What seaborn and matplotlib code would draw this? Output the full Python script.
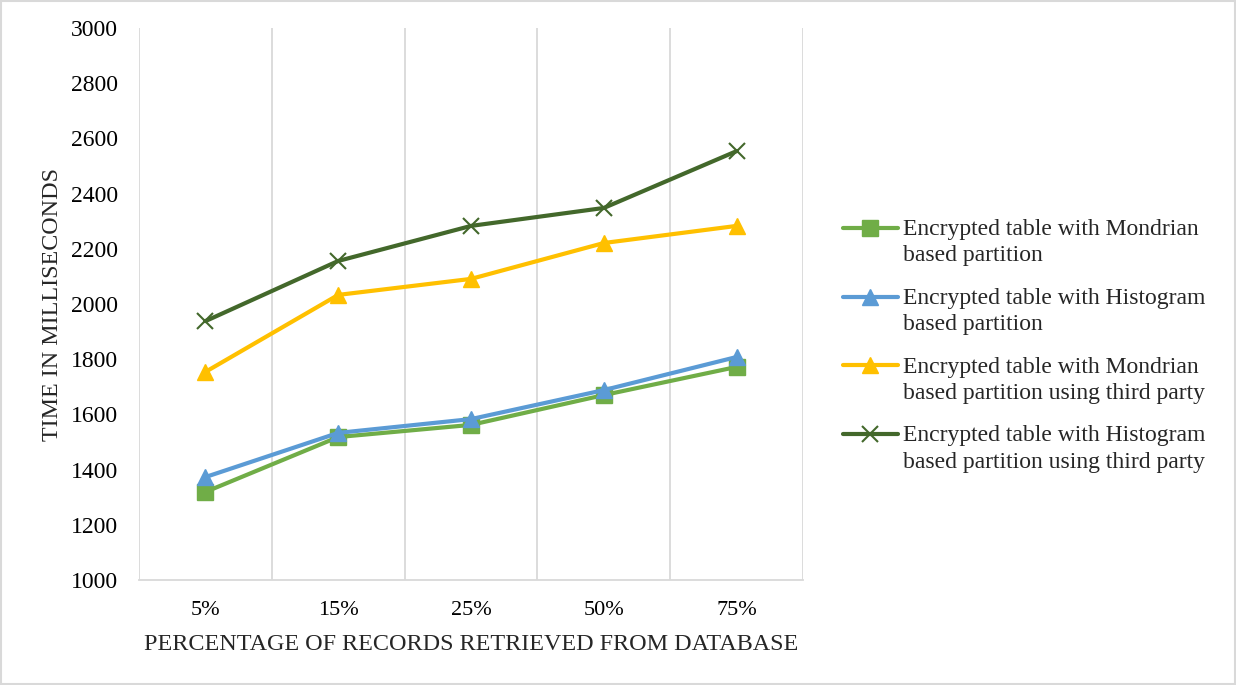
import pandas as pd
import numpy as np
import matplotlib.pyplot as plt
import seaborn as sns
from matplotlib.patches import Rectangle
from matplotlib.legend_handler import HandlerLine2D

categories = ["5%", "15%", "25%", "50%", "75%"]
mondrian = [1319, 1518, 1562, 1670, 1772]
histogram = [1373, 1533, 1583, 1688, 1808]
mondrian_tp = [1754, 2033, 2091, 2221, 2283]
histogram_tp = [1938, 2156, 2283, 2348, 2554]

series_names = [
    "Encrypted table with Mondrian\nbased partition",
    "Encrypted table with Histogram\nbased partition",
    "Encrypted table with Mondrian\nbased partition using third party",
    "Encrypted table with Histogram\nbased partition using third party",
]
series_values = [mondrian, histogram, mondrian_tp, histogram_tp]
colors = ["#70AD47", "#5B9BD5", "#FFC000", "#43682B"]
markers = ["s", "^", "^", "x"]


# legend handle sits next to the first text line, like Excel does
class FirstLineHandler(HandlerLine2D):
    def create_artists(self, legend, orig_handle, xdescent, ydescent,
                       width, height, fontsize, trans):
        arts = super().create_artists(legend, orig_handle, xdescent, ydescent,
                                      width, height, fontsize, trans)
        for a in arts:
            a.set_ydata(np.asarray(a.get_ydata()) + 0.62 * fontsize)
        return arts


sns.set_style("white")
plt.rcParams["font.family"] = ["Liberation Serif", "DejaVu Serif"]

fig = plt.figure(figsize=(12.36, 6.85), dpi=100)
ax = fig.add_axes([0.1125, 0.1533, 0.5372, 0.8058])

pos = np.arange(len(categories))
for name, vals, c, m in zip(series_names, series_values, colors, markers):
    df = pd.DataFrame({"x": pos, "y": vals})
    sns.lineplot(data=df, x="x", y="y", ax=ax, color=c, linewidth=3,
                 marker=m, markersize=11 if m != "x" else 12,
                 markeredgewidth=1.5 if m == "x" else 1.0,
                 markeredgecolor=c, label=name)

ax.set_xlim(-0.5, len(categories) - 0.5)
ax.set_ylim(1000, 3000)
ax.set_yticks(np.arange(1000, 3001, 200))
ax.set_xticks(pos)
ax.set_xticklabels(categories)
for xv in np.arange(-0.5, len(categories), 1.0):
    ax.axvline(xv, color="#d9d9d9", linewidth=1.3, zorder=0)

for s in ["top", "right", "left"]:
    ax.spines[s].set_visible(False)
ax.spines["bottom"].set_color("#d9d9d9")
ax.spines["bottom"].set_linewidth(1.3)
ax.tick_params(axis="both", length=0, colors="black")
ax.tick_params(axis="x", labelsize=16, pad=15)
ax.tick_params(axis="y", labelsize=17, pad=15)

ax.set_xlabel("PERCENTAGE OF RECORDS RETRIEVED FROM DATABASE", fontsize=17.4, labelpad=10)
ax.set_ylabel("TIME IN MILLISECONDS", fontsize=17.3, labelpad=6)

handles, labels = ax.get_legend_handles_labels()
ax.get_legend().remove()
leg = fig.legend(handles, labels, loc="center left", bbox_to_anchor=(0.682, 0.495),
                 frameon=False, fontsize=17, handlelength=2.33, handletextpad=0.2,
                 labelspacing=0.9, borderpad=0, borderaxespad=0,
                 handler_map={h: FirstLineHandler() for h in handles})
for t in leg.get_texts():
    t.set_linespacing(1.35)

fig.patches.append(Rectangle((0.001, 0.001), 0.998, 0.998, transform=fig.transFigure,
                             fill=False, edgecolor="#d9d9d9", linewidth=1.5))

fig.savefig("out.png", dpi=100)
